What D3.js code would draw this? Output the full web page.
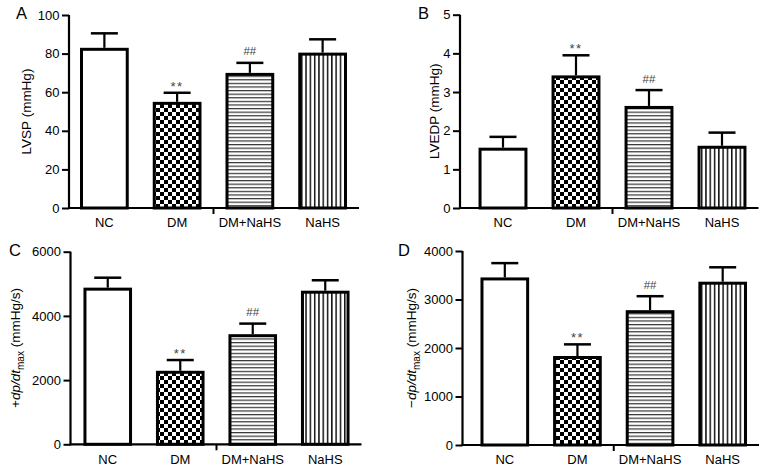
<!DOCTYPE html>
<html><head><meta charset="utf-8">
<script src="https://cdn.jsdelivr.net/npm/d3@7"></script>
<style>
html,body{margin:0;padding:0;background:#fff;}
text{font-family:"Liberation Sans",Arial,Helvetica,sans-serif;}
</style></head>
<body>
<svg id="chart" width="765" height="469"></svg>
<script>
// ---------- data ----------
const categories = ["NC", "DM", "DM+NaHS", "NaHS"];

const lvspMean = [83, 55, 70, 80.5];
const lvspErr  = [7.5, 4.7, 5.2, 6.9];
const lvspTicks = [0, 20, 40, 60, 80, 100];

const lvedpMean = [1.56, 3.43, 2.64, 1.61];
const lvedpErr  = [0.28, 0.52, 0.41, 0.34];
const lvedpTicks = [0, 1, 2, 3, 4, 5];

const dpMaxMean = [4880, 2290, 3430, 4785];
const dpMaxErr  = [310, 335, 330, 325];
const dpMaxTicks = [0, 2000, 4000, 6000];

const dpMinMean = [3455, 1835, 2780, 3367];
const dpMinErr  = [295, 240, 288, 297];
const dpMinTicks = [0, 1000, 2000, 3000, 4000];

const marks = ["", "**", "##", ""];
const panelLetters = ["A", "B", "C", "D"];

// ---------- layout ----------
const panels = [
  {letter: panelLetters[0], mean: lvspMean, err: lvspErr, ticks: lvspTicks, max: 100,
   axisX: 69, band: [68, 359], yTop: 15, yBot: 208, labelX: 31,
   letterX: 16, letterY: 18.5, title: [{t: "LVSP (mmHg)"}]},
  {letter: panelLetters[1], mean: lvedpMean, err: lvedpErr, ticks: lvedpTicks, max: 5,
   axisX: 460, band: [466.5, 758.5], yTop: 14.7, yBot: 208, labelX: 439,
   letterX: 418, letterY: 18.5, title: [{t: "LVEDP (mmHg)"}]},
  {letter: panelLetters[2], mean: dpMaxMean, err: dpMaxErr, ticks: dpMaxTicks, max: 6000,
   axisX: 70.5, band: [71.5, 361.5], yTop: 251.7, yBot: 444.3, labelX: 20,
   letterX: 9, letterY: 256, title: [{t: "+"}, {t: "dp/dt", i: true}, {t: "max", sub: true}, {t: " (mmHg/s)", after: true}]},
  {letter: panelLetters[3], mean: dpMinMean, err: dpMinErr, ticks: dpMinTicks, max: 4000,
   axisX: 462.5, band: [468.5, 759], yTop: 251, yBot: 445, labelX: 416,
   letterX: 398, letterY: 256, title: [{t: "\u2212"}, {t: "dp/dt", i: true}, {t: "max", sub: true}, {t: " (mmHg/s)", after: true}]}
];

const svg = d3.select("#chart");
const defs = svg.append("defs");

// checkerboard
const chk = defs.append("pattern").attr("id", "checker").attr("patternUnits", "userSpaceOnUse")
  .attr("width", 8).attr("height", 8);
chk.append("rect").attr("width", 8).attr("height", 8).attr("fill", "#fff");
chk.append("rect").attr("x", 0).attr("y", 0).attr("width", 4).attr("height", 4).attr("fill", "#000");
chk.append("rect").attr("x", 4).attr("y", 4).attr("width", 4).attr("height", 4).attr("fill", "#000");

// horizontal stripes
const hs = defs.append("pattern").attr("id", "hstripe").attr("patternUnits", "userSpaceOnUse")
  .attr("width", 8).attr("height", 3.6);
hs.append("rect").attr("width", 8).attr("height", 3.6).attr("fill", "#fff");
hs.append("rect").attr("y", 0).attr("width", 8).attr("height", 1.2).attr("fill", "#333");

// vertical stripes
const vs = defs.append("pattern").attr("id", "vstripe").attr("patternUnits", "userSpaceOnUse")
  .attr("width", 4.3).attr("height", 8);
vs.append("rect").attr("width", 4.3).attr("height", 8).attr("fill", "#fff");
vs.append("rect").attr("x", 0).attr("width", 1.5).attr("height", 8).attr("fill", "#111");

const fills = ["#fff", "url(#checker)", "url(#hstripe)", "url(#vstripe)"];

panels.forEach(p => {
  const g = svg.append("g");
  const x = d3.scaleBand().domain(categories).range(p.band).paddingInner(0.33).paddingOuter(0.165);
  const y = d3.scaleLinear().domain([0, p.max]).range([p.yBot, p.yTop]);

  const data = categories.map((c, i) => ({c, m: p.mean[i], e: p.err[i], f: fills[i], mark: marks[i]}));

  // error bars
  data.forEach(d => {
    const cx = x(d.c) + x.bandwidth() / 2;
    g.append("line").attr("x1", cx).attr("x2", cx).attr("y1", y(d.m)).attr("y2", y(d.m + d.e))
      .attr("stroke", "#000").attr("stroke-width", 2.2);
    g.append("line").attr("x1", cx - 13.5).attr("x2", cx + 13.5).attr("y1", y(d.m + d.e)).attr("y2", y(d.m + d.e))
      .attr("stroke", "#000").attr("stroke-width", 2.5);
  });

  g.selectAll("rect.bar").data(data).join("rect")
    .attr("class", "bar")
    .attr("x", d => x(d.c) + 1.5)
    .attr("width", x.bandwidth() - 3)
    .attr("y", d => y(d.m) + 1.5)
    .attr("height", d => y(0) - y(d.m) - 1.5)
    .attr("fill", d => d.f)
    .attr("stroke", "#000").attr("stroke-width", 3);

  // significance marks
  data.filter(d => d.mark).forEach(d => {
    const cx = x(d.c) + x.bandwidth() / 2;
    const isStar = d.mark === "**";
    g.append("text").attr("x", cx).attr("y", y(d.m + d.e) - (isStar ? 2 : 7.5))
      .attr("text-anchor", "middle").attr("font-size", isStar ? 13 : 11.5)
      .attr("letter-spacing", isStar ? 1.5 : 0)
      .attr("fill", "#444").text(d.mark);
  });

  // y axis
  const yAxis = d3.axisLeft(y).tickValues(p.ticks).tickSize(7).tickPadding(2.5).tickFormat(d3.format("d"));
  const ya = g.append("g").attr("transform", `translate(${p.axisX},0)`).call(yAxis);
  ya.select(".domain").attr("d", `M0,${p.yTop}V${p.yBot + 1}`).attr("stroke-width", 2.2);
  ya.selectAll(".tick line").attr("stroke-width", 2);
  ya.selectAll(".tick text").attr("font-size", 13).attr("fill", "#000")
    .attr("font-family", "'Liberation Sans',Arial,sans-serif");

  // x axis
  const xAxis = d3.axisBottom(x).tickSize(0).tickPadding(10);
  const xa = g.append("g").attr("transform", `translate(0,${p.yBot})`).call(xAxis);
  xa.select(".domain").attr("d", `M${p.axisX - 1},0H${p.band[1]}`).attr("stroke-width", 2.2);
  xa.selectAll(".tick text").attr("font-size", 13).attr("fill", "#000")
    .attr("font-family", "'Liberation Sans',Arial,sans-serif");
  const midX = (p.band[0] + p.band[1]) / 2;
  xa.append("line").attr("x1", midX).attr("x2", midX).attr("y1", 0).attr("y2", 6)
    .attr("stroke", "#000").attr("stroke-width", 2);

  // y label
  const cy = (p.yTop + p.yBot) / 2;
  const lt = g.append("text").attr("transform", `translate(${p.labelX},${cy}) rotate(-90)`)
    .attr("text-anchor", "middle").attr("font-size", 13.5).attr("fill", "#000");
  p.title.forEach(s => {
    const ts = lt.append("tspan").text(s.t);
    if (s.i) ts.attr("font-style", "italic");
    if (s.sub) ts.attr("font-size", 10).attr("dy", 3.5);
    if (s.after) ts.attr("dy", -3.5);
  });

  // panel letter
  svg.append("text").attr("x", p.letterX).attr("y", p.letterY).attr("font-size", 16.5).attr("fill", "#000").text(p.letter);
});
</script>
</body></html>
